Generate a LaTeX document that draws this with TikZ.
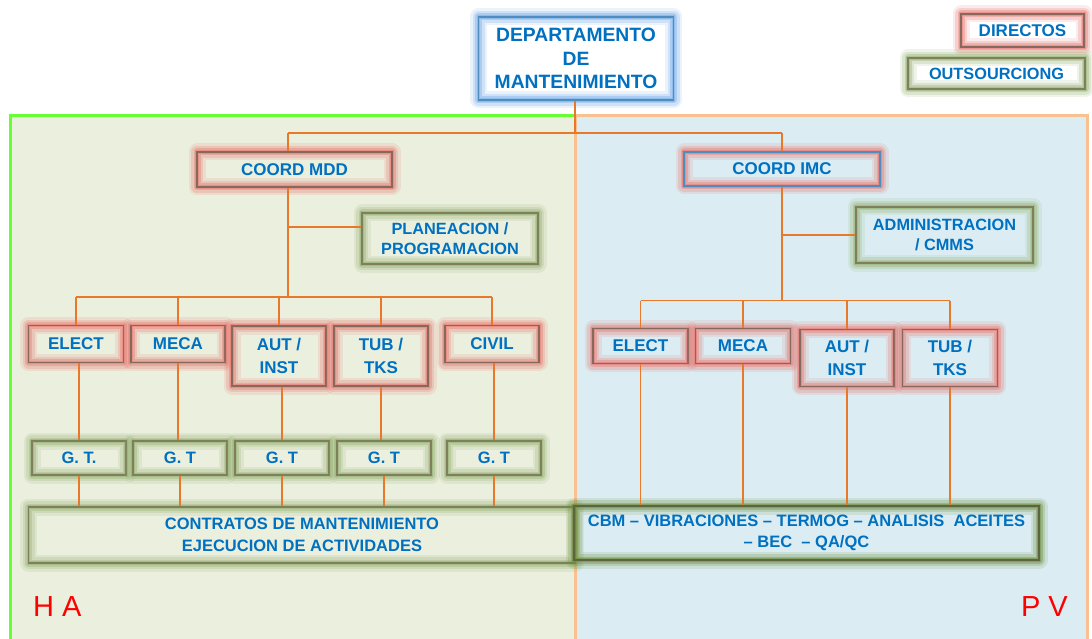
\documentclass[tikz,border=0pt]{standalone}
\usepackage{fontspec}
\setmainfont{Liberation Sans}
\definecolor{txtblue}{HTML}{0070C0}
\definecolor{connc}{HTML}{E8782A}
\definecolor{glowR}{HTML}{E6736C}
\definecolor{glowG}{HTML}{93AF6E}
\definecolor{glowB}{HTML}{6FA8E6}
\definecolor{glowD}{HTML}{6A8A3A}
\definecolor{bordR}{HTML}{86695C}
\definecolor{bordG}{HTML}{7F7F5E}
\definecolor{bordB}{HTML}{4F8CC0}
\definecolor{bordD}{HTML}{5E6440}
\definecolor{fillL}{HTML}{EBEFDE}
\definecolor{fillR}{HTML}{DBEDF3}
\definecolor{edgeL}{HTML}{66FF33}
\definecolor{edgeR}{HTML}{FAC08F}
\definecolor{lblred}{HTML}{FF0000}
\tikzset{
  glowbox/.style 2 args={draw=#2, line width=1.8pt, inner sep=0pt, align=center, text=txtblue,
    font=\fontsize{17}{21}\selectfont\bfseries,
    preaction={draw=#1, line width=17pt, draw opacity=0.14, line join=round},
    preaction={draw=#1, line width=12pt, draw opacity=0.22, line join=round},
    preaction={draw=#1, line width=7pt, draw opacity=0.35, line join=round},
    preaction={draw=#1, line width=3.5pt, draw opacity=0.45}},
  redbox/.style={glowbox={glowR}{bordR}},
  greenbox/.style={glowbox={glowG}{bordG}},
  bluebox/.style={glowbox={glowB}{bordB}},
  darkbox/.style={glowbox={glowD}{bordD}, line width=2.5pt},
  twoline/.style={font=\fontsize{16.3}{20.5}\selectfont\bfseries},
  conn/.style={draw=connc, line width=1.3pt},
  regionlbl/.style={text=lblred, font=\fontsize{29}{30}\selectfont, inner sep=0pt}
}
\begin{document}
\begin{tikzpicture}[x=1pt,y=-1pt]
\useasboundingbox (0,0) rectangle (1092,639);
\clip (0,0) rectangle (1092,639);
\fill[white] (0,0) rectangle (1092,639);
% regions
\filldraw[fill=fillL, draw=edgeL, line width=3pt] (10,116) rectangle (575,700);
\filldraw[fill=fillR, draw=edgeR, line width=3pt] (575,116) rectangle (1087,700);

% nodes
\node[bluebox, minimum width=195pt, minimum height=83pt, font=\fontsize{19.3}{23.5}\selectfont\bfseries] (dept) at (576,58.5) {DEPARTAMENTO\\DE\\MANTENIMIENTO};
\node[redbox, minimum width=123pt, minimum height=33pt] (dir) at (1022.5,30.5) {DIRECTOS};
\node[greenbox, minimum width=177pt, minimum height=31pt, font=\fontsize{16.3}{20}\selectfont\bfseries] (out) at (996.5,73.5) {OUTSOURCIONG};

\node[redbox, minimum width=195pt, minimum height=35pt] (mdd) at (294.5,169.5) {COORD MDD};
\node[redbox, draw=bordB, minimum width=196pt, minimum height=34pt] (imc) at (782,169) {COORD IMC};
\node[greenbox, twoline, minimum width=176pt, minimum height=51pt] (plan) at (450,238.5) {PLANEACION /\\PROGRAMACION};
\node[greenbox, twoline, minimum width=177pt, minimum height=56pt] (adm) at (944.5,235) {ADMINISTRACION\\/ CMMS};

% left departments
\node[redbox, minimum width=95pt, minimum height=37pt] (le) at (76,344) {ELECT};
\node[redbox, minimum width=94pt, minimum height=37pt] (lm) at (178,344) {MECA};
\node[redbox, minimum width=94pt, minimum height=60pt, font=\fontsize{17}{23}\selectfont\bfseries] (la) at (279,356) {AUT /\\INST};
\node[redbox, minimum width=94pt, minimum height=60pt, font=\fontsize{17}{23}\selectfont\bfseries] (lt) at (381,356) {TUB /\\TKS};
\node[redbox, minimum width=94pt, minimum height=37pt] (lc) at (492,344) {CIVIL};

% G.T boxes
\node[greenbox, minimum width=94pt, minimum height=34pt, font=\fontsize{16.5}{20}\selectfont\bfseries] (g1) at (79,458) {G. T.};
\node[greenbox, minimum width=94pt, minimum height=34pt, font=\fontsize{16.5}{20}\selectfont\bfseries] (g2) at (180,458) {G. T};
\node[greenbox, minimum width=94pt, minimum height=34pt, font=\fontsize{16.5}{20}\selectfont\bfseries] (g3) at (282,458) {G. T};
\node[greenbox, minimum width=94pt, minimum height=34pt, font=\fontsize{16.5}{20}\selectfont\bfseries] (g4) at (384,458) {G. T};
\node[greenbox, minimum width=94pt, minimum height=34pt, font=\fontsize{16.5}{20}\selectfont\bfseries] (g5) at (494,458) {G. T};

% right departments
\node[redbox, minimum width=95pt, minimum height=35pt] (re) at (640.5,346) {ELECT};
\node[redbox, minimum width=95pt, minimum height=35pt] (rm) at (743,346) {MECA};
\node[redbox, minimum width=94pt, minimum height=57pt, font=\fontsize{17}{23}\selectfont\bfseries] (ra) at (847,358) {AUT /\\INST};
\node[redbox, minimum width=95pt, minimum height=57pt, font=\fontsize{17}{23}\selectfont\bfseries] (rt) at (950,358) {TUB /\\TKS};

% bottom boxes
\node[greenbox, minimum width=547pt, minimum height=56pt, font=\fontsize{16.5}{21.4}\selectfont\bfseries] (con) at (302,535) {CONTRATOS DE MANTENIMIENTO\\EJECUCION DE ACTIVIDADES};
\node[darkbox, minimum width=465pt, minimum height=54pt, font=\fontsize{16.5}{21}\selectfont\bfseries] (cbm) at (806.5,533) {CBM -- VIBRACIONES -- TERMOG -- ANALISIS\ \ ACEITES\\-- BEC\ \ -- QA/QC};

% connectors
\coordinate (j0) at (575,133);
\coordinate (jm) at (288,133);
\coordinate (lb) at (288,297);
\coordinate (pj) at (288,227);
\coordinate (rb) at (783,300.6);
\draw[conn] (dept.south -| j0) -- (j0);
\draw[conn] (jm) -- (j0 -| imc.north);
\draw[conn] (jm) -- (mdd.north -| jm);
\draw[conn] (j0 -| imc.north) -- (imc.north);
\draw[conn] (mdd.south -| lb) -- (lb);
\draw[conn] (pj) -- (pj -| plan.west);
\draw[conn] (le.north |- lb) -- (lc.north |- lb);
\foreach \n in {le,lm,la,lt,lc} { \draw[conn] (\n.north |- lb) -- (\n.north); }
\draw[conn] (le.south -| g1.north) -- (g1.north);
\draw[conn] (lm.south) -- (lm.south |- g2.north);
\draw[conn] (la.south -| g3.north) -- (g3.north);
\draw[conn] (lt.south) -- (lt.south |- g4.north);
\draw[conn] (lc.south -| g5.north) -- (g5.north);
\foreach \n in {g1,g2,g3,g4,g5} { \draw[conn] (\n.south) -- (\n.south |- con.north); }
\draw[conn] (imc.south) -- (imc.south |- rb);
\draw[conn] (adm.west -| imc.south) -- (adm.west);
\draw[conn] (re.north |- rb) -- (rt.north |- rb);
\foreach \n in {re,rm,ra,rt} { \draw[conn] (\n.north |- rb) -- (\n.north); \draw[conn] (\n.south) -- (\n.south |- cbm.north); }

% region labels
\node[regionlbl, anchor=base west] (ha) at (33,616) {H A};
\node[regionlbl, anchor=base east] (pv) at (1068,616) {P V};
\end{tikzpicture}
\end{document}
